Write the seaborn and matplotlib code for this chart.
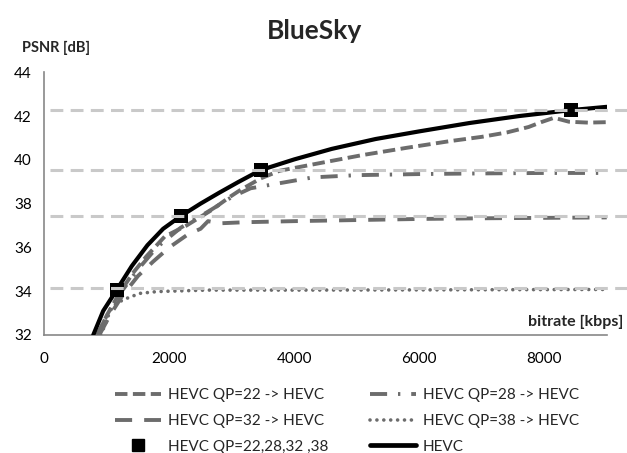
import matplotlib
matplotlib.use("Agg")
import matplotlib.pyplot as plt
from matplotlib.lines import Line2D
import seaborn as sns

# =====================
# Data
# =====================
hevc_x = [783, 942, 1156, 1400, 1650, 1901, 2183, 2500, 2800, 3100, 3461, 4000, 4600,
          5300, 6000, 6800, 7600, 8423, 9000]
hevc_y = [32.0, 33.1, 34.05, 35.15, 36.1, 36.85, 37.43, 38.0, 38.5, 38.98, 39.53, 40.02,
          40.5, 40.95, 41.3, 41.68, 42.0, 42.27, 42.42]

qp22_x = [850, 1000, 1200, 1418, 1636, 1928, 2275, 2673, 2965, 3125, 3461, 3764, 4500,
          5095, 5800, 6479, 7000, 7400, 7750, 7950, 8156, 8396, 8700, 9000]
qp22_y = [32.0, 32.9, 33.9, 34.83, 35.6, 36.5, 37.0, 37.7, 38.3, 38.6, 39.15, 39.5, 39.9,
          40.22, 40.55, 40.85, 41.05, 41.25, 41.5, 41.72, 41.92, 41.74, 41.7, 41.72]

qp28_x = [850, 1000, 1200, 1500, 1800, 2183, 2600, 3000, 3300, 3600, 3900, 4300, 5000,
          6000, 7000, 8000, 9000]
qp28_y = [32.0, 32.9, 33.85, 35.0, 36.0, 36.9, 37.6, 38.3, 38.7, 38.85, 39.0, 39.2, 39.3,
          39.35, 39.38, 39.4, 39.4]

qp32_x = [880, 1050, 1250, 1500, 1740, 2000, 2300, 2500, 2620, 2800, 3200, 4000, 5000,
          6000, 7000, 8000, 9000]
qp32_y = [32.0, 32.9, 33.8, 34.7, 35.35, 36.0, 36.6, 36.85, 37.2, 37.1, 37.15, 37.2, 37.25,
          37.3, 37.33, 37.35, 37.37]

qp38_x = [900, 980, 1050, 1150, 1316, 1528, 1795, 2000, 2600, 4000, 6000, 9000]
qp38_y = [32.0, 32.5, 33.1, 33.45, 33.67, 33.9, 33.98, 34.0, 34.05, 34.05, 34.06, 34.08]

anchor_x = [1156, 2183, 3461, 8423]
anchor_y = [34.05, 37.43, 39.53, 42.27]

ref_levels = [34.16, 37.45, 39.53, 42.27]

x_ticks = [0, 2000, 4000, 6000, 8000]
y_ticks = [32, 34, 36, 38, 40, 42, 44]

# =====================
# Style
# =====================
sns.set_style("white")
plt.rcParams["font.family"] = ["Lato", "DejaVu Sans"]

gray = "#6c6c6c"
light = "#c9c9c9"
axis_gray = "#878787"

ls22 = (0, (3.2, 1.4))
ls28 = (0, (4.4, 2.8, 0.6, 2.8))
ls32 = (0, (4.4, 3.1))
ls38 = (0, (0.01, 1.9))

fig = plt.figure(figsize=(6.27, 4.53), dpi=100)
ax = fig.add_axes([0.0707, 0.2605, 0.897, 0.580])

# =====================
# Curves
# =====================
lw = 2.8
sns.lineplot(x=qp22_x, y=qp22_y, ax=ax, color=gray, lw=lw, sort=False, estimator=None,
             linestyle=ls22, zorder=3)
sns.lineplot(x=qp28_x, y=qp28_y, ax=ax, color=gray, lw=lw, sort=False, estimator=None,
             linestyle=ls28, zorder=3)
sns.lineplot(x=qp32_x, y=qp32_y, ax=ax, color=gray, lw=lw, sort=False, estimator=None,
             linestyle=ls32, zorder=3)
sns.lineplot(x=qp38_x, y=qp38_y, ax=ax, color=gray, lw=2.6, sort=False, estimator=None,
             linestyle=ls38, dash_capstyle="round", zorder=3)
sns.lineplot(x=hevc_x, y=hevc_y, ax=ax, color="black", lw=3.0, sort=False, estimator=None,
             zorder=4)
sns.scatterplot(x=anchor_x, y=anchor_y, ax=ax, marker="s", s=95, color="black",
                edgecolor="black", linewidth=0, zorder=5)

# dashed reference levels run past the axis end
for lev in ref_levels:
    ax.axhline(lev, xmin=0.01, xmax=1.04, color=light, lw=2.2,
               linestyle=(0, (4.2, 2.4)), clip_on=False, zorder=6)

# =====================
# Axes
# =====================
ax.set_xlim(0, 9000)
ax.set_ylim(32, 44)
ax.set_xticks(x_ticks)
ax.set_yticks(y_ticks)
ax.tick_params(axis="both", direction="out", length=4, width=1, color=axis_gray,
               labelsize=11, pad=5, labelcolor="black")
ax.tick_params(axis="x", pad=8)
for side in ["top", "right"]:
    ax.spines[side].set_visible(False)
for side in ["left", "bottom"]:
    ax.spines[side].set_color(axis_gray)
    ax.spines[side].set_linewidth(1.2)
ax.set_xlabel("")
ax.set_ylabel("")

fig.text(0.502, 0.932, "BlueSky", ha="center", va="center", fontsize=19,
         fontweight="bold")
fig.text(0.089, 0.894, "PSNR [dB]", ha="center", va="center", fontsize=10.5,
         fontweight="bold")
fig.text(0.994, 0.289, "bitrate [kbps]", ha="right", va="center", fontsize=11.5,
         fontweight="bold")

# =====================
# Legend (two columns)
# =====================
col1 = [
    Line2D([], [], color=gray, lw=lw, linestyle=ls22),
    Line2D([], [], color=gray, lw=lw, linestyle=ls32),
    Line2D([], [], color="black", lw=0, marker="s", markersize=8),
]
col1_labels = ["HEVC QP=22 -> HEVC", "HEVC QP=32 -> HEVC", "HEVC QP=22,28,32 ,38"]
col2 = [
    Line2D([], [], color=gray, lw=lw, linestyle=ls28),
    Line2D([], [], color=gray, lw=2.6, linestyle=ls38, dash_capstyle="round"),
    Line2D([], [], color="black", lw=3.4),
]
col2_labels = ["HEVC QP=28 -> HEVC", "HEVC QP=38 -> HEVC", "HEVC"]

leg_kw = dict(loc="upper left", frameon=False, fontsize=11, borderpad=0,
              borderaxespad=0, handlelength=3.0, handletextpad=0.45,
              labelspacing=0.78)
leg1 = fig.legend(col1, col1_labels, bbox_to_anchor=(115 / 627, 1 - 388 / 453), **leg_kw)
leg2 = fig.legend(col2, col2_labels, bbox_to_anchor=(370 / 627, 1 - 388 / 453), **leg_kw)

fig.savefig("out.png", dpi=100)
